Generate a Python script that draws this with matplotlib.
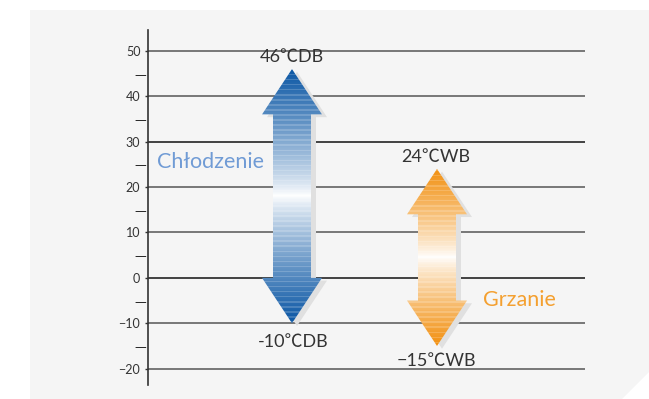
import numpy as np
import matplotlib
matplotlib.use('Agg')
import matplotlib.pyplot as plt
from matplotlib.patches import Polygon
from matplotlib.colors import to_rgb

# data
major_ticks = [50, 40, 30, 20, 10, 0, -10, -20]
minor_ticks = [45, 35, 25, 15, 5, -5, -15]
cool_range = [-10, 46]
heat_range = [-15, 24]
cool_labels = ['46℃DB', '-10℃DB']
heat_labels = ['24℃WB', '−15℃WB']
mode_names = ['Chłodzenie', 'Grzanie']

W, H = 649, 399
fig = plt.figure(figsize=(W / 100, H / 100), dpi=100, facecolor='white')

# light gray panel with cut corner (pixel coords)
panel = np.array([[30, 10], [649, 10], [649, 372], [622, 399], [30, 399]], float)
panel[:, 0] /= W
panel[:, 1] = 1 - panel[:, 1] / H
fig.patches.append(Polygon(panel, closed=True, transform=fig.transFigure,
                           facecolor='#f5f5f5', edgecolor='none', zorder=-1))

ax = fig.add_axes([148 / W, 14 / H, (585 - 148) / W, (385 - 30) / H])
ax.set_facecolor('none')
ax.set_xlim(0, 437)
ax.set_ylim(-23.6, 54.6)

for s in ['top', 'right', 'bottom']:
    ax.spines[s].set_visible(False)
ax.spines['left'].set_color('#333333')
ax.spines['left'].set_linewidth(1.2)
ax.set_xticks([])

font = ['Lato', 'Noto Sans CJK SC', 'DejaVu Sans']
ax.set_yticks(major_ticks)
ax.set_yticklabels([str(t).replace('-', '−') for t in major_ticks],
                   fontsize=9, color='#333333', family=font)
ax.set_yticks(minor_ticks, minor=True)
ax.set_yticklabels(['—'] * len(minor_ticks), minor=True, fontsize=8.5,
                   color='#222222', family='DejaVu Sans')
ax.tick_params(axis='y', which='major', length=2.5, width=1, pad=3, color='#333333')
ax.tick_params(axis='y', which='minor', length=0, pad=1.5)

for t in major_ticks:
    c = '#111111' if t in (30, 0) else '#555555'
    ax.axhline(t, color=c, lw=1.1, zorder=1)


def arrow_poly(cx, lo, hi, head_w=30, shaft_w=19, head_len=10):
    return [(cx, hi), (cx + head_w, hi - head_len), (cx + shaft_w, hi - head_len),
            (cx + shaft_w, lo + head_len), (cx + head_w, lo + head_len), (cx, lo),
            (cx - head_w, lo + head_len), (cx - shaft_w, lo + head_len),
            (cx - shaft_w, hi - head_len), (cx - head_w, hi - head_len)]


def draw_arrow(cx, lo, hi, dark):
    pts = np.array(arrow_poly(cx, lo, hi))
    shadow = pts + np.array([5, -0.6])
    ax.add_patch(Polygon(shadow, closed=True, facecolor='#e0e0e0',
                         edgecolor='none', zorder=2))
    poly = Polygon(pts, closed=True, facecolor='none', edgecolor='none', zorder=3)
    ax.add_patch(poly)
    n = 500
    v = np.linspace(hi, lo, n)
    mid = (hi + lo) / 2
    t = np.abs(v - mid) / ((hi - lo) / 2)
    amt = np.clip(t, 0, 1) ** 0.8
    d = np.array(to_rgb(dark))
    cols = (1 - amt[:, None]) * 1.0 + amt[:, None] * d[None, :]
    stripe = ((v * 0.9) % 1.0) < 0.3
    cols[stripe] = cols[stripe] * 0.82 + 0.18
    img = np.repeat(cols[:, None, :], 2, axis=1)
    im = ax.imshow(img, extent=[cx - 31, cx + 31, lo, hi], aspect='auto',
                   zorder=4, interpolation='nearest')
    im.set_clip_path(poly)


draw_arrow(144, cool_range[0], cool_range[1], '#0a56a4')
draw_arrow(289, heat_range[0], heat_range[1], '#f29010')
ax.set_xlim(0, 437)
ax.set_ylim(-23.6, 54.6)

lab_kw = dict(fontsize=13, color='#333333', ha='center', va='center', family=font)
ax.text(144, cool_range[1] + 2.7, cool_labels[0], **lab_kw)
ax.text(145, cool_range[0] - 4.1, cool_labels[1], **lab_kw)
ax.text(288, heat_range[1] + 2.6, heat_labels[0], **lab_kw)
ax.text(288, heat_range[0] - 3.3, heat_labels[1], **lab_kw)

ax.text(9, 25.5, mode_names[0], fontsize=15.5, color='#709bd5', ha='left',
        va='center', family=font)
ax.text(335, -4.8, mode_names[1], fontsize=15.5, color='#f4a030', ha='left',
        va='center', family=font)

fig.savefig('out.png', dpi=100, facecolor='white')
